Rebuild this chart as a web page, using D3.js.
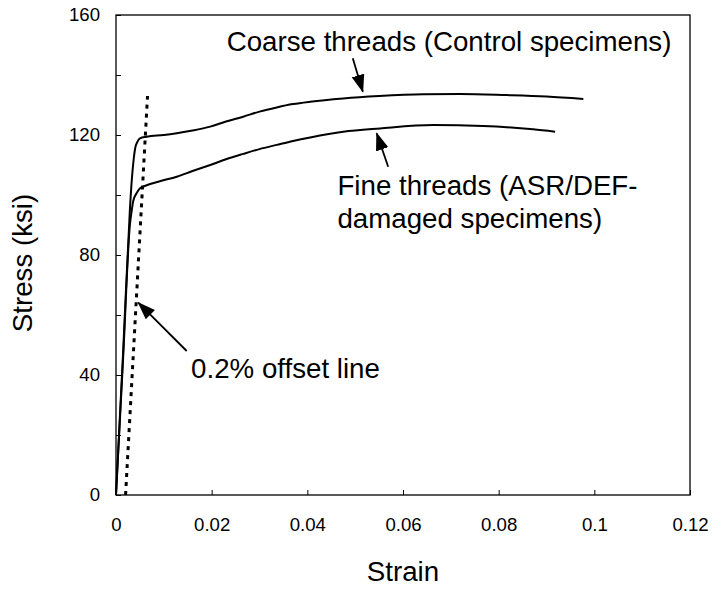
<!DOCTYPE html>
<html><head><meta charset="utf-8">
<script src="https://cdn.jsdelivr.net/npm/d3@7"></script>
<style>
body{margin:0;background:#fff}
svg{display:block}
text{font-family:Arial,"Liberation Sans",Helvetica,sans-serif;fill:#000}
</style>
</head><body>
<svg id="chart" width="712" height="590"></svg>
<script>
// ---- data (strain, stress in ksi) ----
const coarseStrain = [0,0.0015,0.0029,0.0033,0.0037,0.0040,0.0045,0.0050,0.0064,0.010,0.0127,0.016,0.0197,0.023,0.0266,0.030,0.0336,0.037,0.0406,0.0475,0.055,0.0643,0.072,0.0817,0.090,0.0977];
const coarseStress = [0,48,95,105,112,115.5,117.8,118.9,119.4,120,120.6,121.5,122.8,124.5,126.1,127.8,129.2,130.3,131.1,132.2,133,133.6,133.7,133.3,132.8,132];
const fineStrain = [0,0.0015,0.0029,0.0033,0.0036,0.0043,0.0050,0.0057,0.009,0.0127,0.016,0.0197,0.023,0.0266,0.030,0.0336,0.037,0.0406,0.0475,0.0552,0.0663,0.0767,0.0872,0.0918];
const fineStress = [0,46,90,95,98,100.6,102.2,102.8,104.5,106.1,108,110,111.9,113.7,115.3,116.7,118,119.2,121.1,122.2,123.3,123,121.9,121.1];
const offsetStrain = [0.002,0.00659];
const offsetStress = [0,133];
const xTicks = [0,0.02,0.04,0.06,0.08,0.1,0.12];
const xTickLabels = ["0","0.02","0.04","0.06","0.08","0.1","0.12"];
const yTicks = [0,40,80,120,160];
const yMinorTicks = [20,60,100,140];
const yTickLabels = ["0","40","80","120","160"];
const xTitle = "Strain";
const yTitle = "Stress (ksi)";
const noteCoarse = "Coarse threads (Control specimens)";
const noteFine = ["Fine threads (ASR/DEF-","damaged specimens)"];
const noteOffset = "0.2% offset line";

// ---- layout ----
const W = 712, H = 590;
const m = {left:116, top:15, right:22, bottom:95};
const pw = W - m.left - m.right, ph = H - m.top - m.bottom;
const svg = d3.select("#chart");
svg.append("rect").attr("width",W).attr("height",H).attr("fill","#fff");
const g = svg.append("g").attr("transform",`translate(${m.left},${m.top})`);

const x = d3.scaleLinear().domain([0,0.12]).range([0,pw]);
const y = d3.scaleLinear().domain([0,160]).range([ph,0]);

// axes
const xa = g.append("g").attr("transform",`translate(0,${ph})`)
  .call(d3.axisBottom(x).tickValues(xTicks).tickFormat((d,i)=>xTickLabels[i]).tickSizeInner(-5).tickSizeOuter(0).tickPadding(23));
const ya = g.append("g")
  .call(d3.axisLeft(y).tickValues(yTicks).tickFormat((d,i)=>yTickLabels[i]).tickSizeInner(-5).tickSizeOuter(0).tickPadding(16));
const yam = g.append("g")
  .call(d3.axisLeft(y).tickValues(yMinorTicks).tickFormat("").tickSizeInner(-5).tickSizeOuter(0));
[xa,ya,yam].forEach(a=>{
  a.select(".domain").remove();
  a.selectAll(".tick line").attr("stroke","#000").attr("stroke-width",1);
  a.selectAll("text").attr("font-size",18.6).attr("font-family","Arial, 'Liberation Sans', sans-serif").attr("fill","#000");
});

// frame
g.append("rect").attr("x",0).attr("y",0).attr("width",pw).attr("height",ph)
  .attr("fill","none").attr("stroke","#000").attr("stroke-width",1.3);

// curves
const line = d3.line().x(d=>x(d[0])).y(d=>y(d[1])).curve(d3.curveMonotoneX);
const coarse = coarseStrain.map((s,i)=>[s,coarseStress[i]]);
const fine = fineStrain.map((s,i)=>[s,fineStress[i]]);
const offs = offsetStrain.map((s,i)=>[s,offsetStress[i]]);
g.append("path").datum(coarse).attr("d",line).attr("fill","none").attr("stroke","#000").attr("stroke-width",2);
g.append("path").datum(fine).attr("d",line).attr("fill","none").attr("stroke","#000").attr("stroke-width",2);
g.append("path").datum(offs).attr("d",d3.line().x(d=>x(d[0])).y(d=>y(d[1])))
  .attr("fill","none").attr("stroke","#000").attr("stroke-width",3).attr("stroke-dasharray","4,5");

// arrow marker
svg.append("defs").append("marker").attr("id","ah").attr("markerUnits","userSpaceOnUse")
  .attr("viewBox","0 -7 18 14").attr("refX",17).attr("refY",0)
  .attr("markerWidth",18).attr("markerHeight",14).attr("orient","auto")
  .append("path").attr("d","M0,-6.5L18,0L0,6.5Z").attr("fill","#000");

function arrow(x1,y1,x2,y2){
  g.append("line").attr("x1",x(x1)).attr("y1",y(y1)).attr("x2",x(x2)).attr("y2",y(y2))
   .attr("stroke","#000").attr("stroke-width",1.8).attr("marker-end","url(#ah)");
}
arrow(0.0495,145.6,0.0516,134.4);
arrow(0.0569,109.4,0.0545,120.6);
arrow(0.01478,48,0.00466,64.1);

// annotations
const fs = 27.7;
g.append("text").attr("x",x(0.02315)).attr("y",y(148.1)).attr("font-size",fs).text(noteCoarse);
g.append("text").attr("x",x(0.0463)).attr("y",y(100)).attr("font-size",fs).text(noteFine[0]);
g.append("text").attr("x",x(0.0463)).attr("y",y(100)+33).attr("font-size",fs).text(noteFine[1]);
g.append("text").attr("x",x(0.0157)).attr("y",y(39)).attr("font-size",fs).text(noteOffset);

// titles
svg.append("text").attr("x",m.left+pw/2).attr("y",581).attr("text-anchor","middle").attr("font-size",fs).text(xTitle);
svg.append("text").attr("transform",`translate(32,${m.top+ph/2+8}) rotate(-90)`).attr("text-anchor","middle").attr("font-size",fs).text(yTitle);
</script>
</body></html>
